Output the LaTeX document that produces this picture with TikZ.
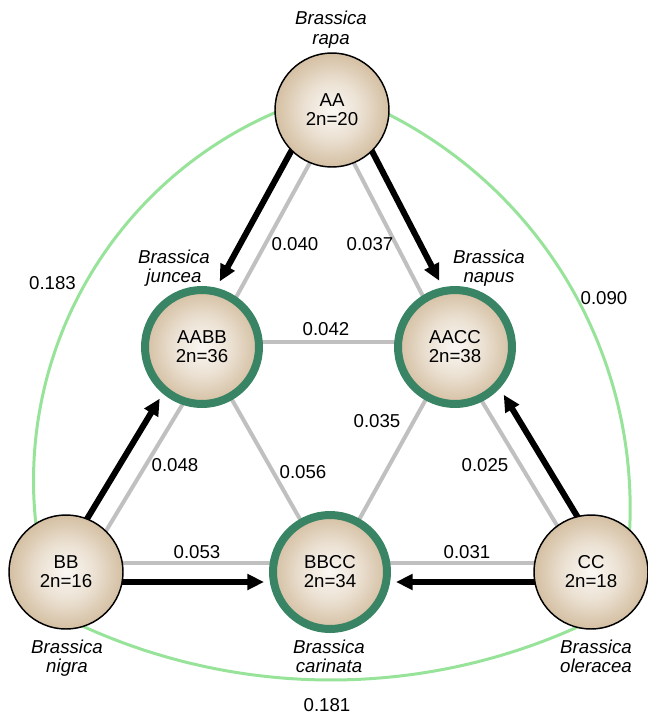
\documentclass[tikz,border=0pt]{standalone}
\usepackage{fontspec}
\setmainfont{Liberation Sans}
\usetikzlibrary{arrows.meta,calc,backgrounds}
\definecolor{tanin}{HTML}{FAF7F3}
\definecolor{tanmid}{HTML}{ECE2D4}
\definecolor{tanout}{HTML}{D4BFA2}
\definecolor{ringgreen}{HTML}{388464}
\definecolor{arcgreen}{HTML}{97E39A}
\definecolor{linegray}{HTML}{C0C0C0}
\pgfdeclareradialshading{tanball}{\pgfpointorigin}{color(0bp)=(tanin); color(12bp)=(tanmid); color(25bp)=(tanout); color(50bp)=(tanout)}
\begin{document}
\begin{tikzpicture}[x=0.75pt,y=-0.75pt,
  basenode/.style={circle, minimum size=85.5pt, inner sep=0pt, shade, shading=tanball, align=center, font=\fontsize{14}{14.3}\selectfont},
  diploid/.style={basenode, draw=black, line width=1.1pt},
  allo/.style={basenode, draw=ringgreen, line width=6pt},
  species/.style={anchor=north, inner sep=0pt, align=center, font=\fontsize{14}{14.6}\selectfont\itshape},
  dist/.style={inner sep=0pt, font=\fontsize{14}{14}\selectfont},
  grayline/.style={draw=linegray, line width=3pt},
  arcline/.style={draw=arcgreen, line width=2.25pt},
  blackarrow/.style={draw=black, line width=4.5pt, -{Triangle[length=12.5pt,width=11.5pt]}, shorten >=49.5pt}
]
\useasboundingbox (0,0) rectangle (648,715);

% nodes
\node[diploid] (AA) at (332,110) {AA\\2n=20};
\node[allo] (AABB) at (202,347) {AABB\\2n=36};
\node[allo] (AACC) at (455,347) {AACC\\2n=38};
\node[diploid] (BB) at (66,572) {BB\\2n=16};
\node[allo] (BBCC) at (330,572) {BBCC\\2n=34};
\node[diploid] (CC) at (591,572) {CC\\2n=18};

% species names
\node[species] (sAA) at (331,11) {Brassica\\rapa};
\node[species] (sAABB) at (174,249.6) {Brassica\\juncea};
\node[species] (sAACC) at (489,249.6) {Brassica\\napus};
\node[species] (sBB) at (67,639.5) {Brassica\\nigra};
\node[species] (sBBCC) at (329,639.5) {Brassica\\carinata};
\node[species] (sCC) at (596,639.5) {Brassica\\oleracea};

% distances
\node[dist] (d183) at (52.5,283) {0.183};
\node[dist] (d090) at (604,298) {0.090};
\node[dist] (d181) at (327,705) {0.181};
\node[dist] (d040) at (295,244.5) {0.040};
\node[dist] (d037) at (370,244.5) {0.037};
\node[dist] (d042) at (326,329) {0.042};
\node[dist] (d048) at (175,465.5) {0.048};
\node[dist] (d056) at (303,472) {0.056};
\node[dist] (d035) at (377,421) {0.035};
\node[dist] (d025) at (485,465.5) {0.025};
\node[dist] (d053) at (197,552.5) {0.053};
\node[dist] (d031) at (467,552.5) {0.031};

\begin{scope}[on background layer]
  % outer green arcs
  \draw[arcline] plot[domain=-110:-190, samples=90] ({434.5+401*cos(\x)},{480.5+401*sin(\x)});
  \draw[arcline] plot[domain=-66:8, samples=90] ({188.4+441.8*cos(\x)},{508.2+441.8*sin(\x)});
  \draw[arcline] plot[domain=61:119, samples=90] ({331+600*cos(\x)},{80+600*sin(\x)});

  % inner gray lines
  \draw[grayline] ($(AABB.center)+(0,-5)$) -- ($(AACC.center)+(0,-5)$);
  \draw[grayline] (AABB.center) -- (BBCC.center);
  \draw[grayline] (AACC.center) -- (BBCC.center);

  % doubled edges: gray (inside) and black arrows (outside)
  \draw[grayline] ($(AA.center)!4.5pt!90:(AABB.center)$) -- ($(AABB.center)!4.5pt!-90:(AA.center)$);
  \draw[blackarrow] ($(AA.center)!12pt!-90:(AABB.center)$) -- ($(AABB.center)!12pt!90:(AA.center)$);

  \draw[grayline] ($(AA.center)!3.75pt!-90:(AACC.center)$) -- ($(AACC.center)!3.75pt!90:(AA.center)$);
  \draw[blackarrow] ($(AA.center)!12.4pt!90:(AACC.center)$) -- ($(AACC.center)!12.4pt!-90:(AA.center)$);

  \draw[grayline] ($(BB.center)!9.75pt!-90:(AABB.center)$) -- ($(AABB.center)!9.75pt!90:(BB.center)$);
  \draw[blackarrow] ($(BB.center)!7.1pt!90:(AABB.center)$) -- ($(AABB.center)!7.1pt!-90:(BB.center)$);

  \draw[grayline] ($(CC.center)!3.75pt!90:(AACC.center)$) -- ($(AACC.center)!3.75pt!-90:(CC.center)$);
  \draw[blackarrow] ($(CC.center)!12.75pt!-90:(AACC.center)$) -- ($(AACC.center)!12.75pt!90:(CC.center)$);

  \draw[grayline] ($(BB.center)!6.75pt!90:(BBCC.center)$) -- ($(BBCC.center)!6.75pt!-90:(BB.center)$);
  \draw[blackarrow] ($(BB.center)!7.5pt!-90:(BBCC.center)$) -- ($(BBCC.center)!7.5pt!90:(BB.center)$);

  \draw[grayline] ($(CC.center)!6.75pt!-90:(BBCC.center)$) -- ($(BBCC.center)!6.75pt!90:(CC.center)$);
  \draw[blackarrow] ($(CC.center)!7.5pt!90:(BBCC.center)$) -- ($(BBCC.center)!7.5pt!-90:(CC.center)$);
\end{scope}
\end{tikzpicture}
\end{document}
